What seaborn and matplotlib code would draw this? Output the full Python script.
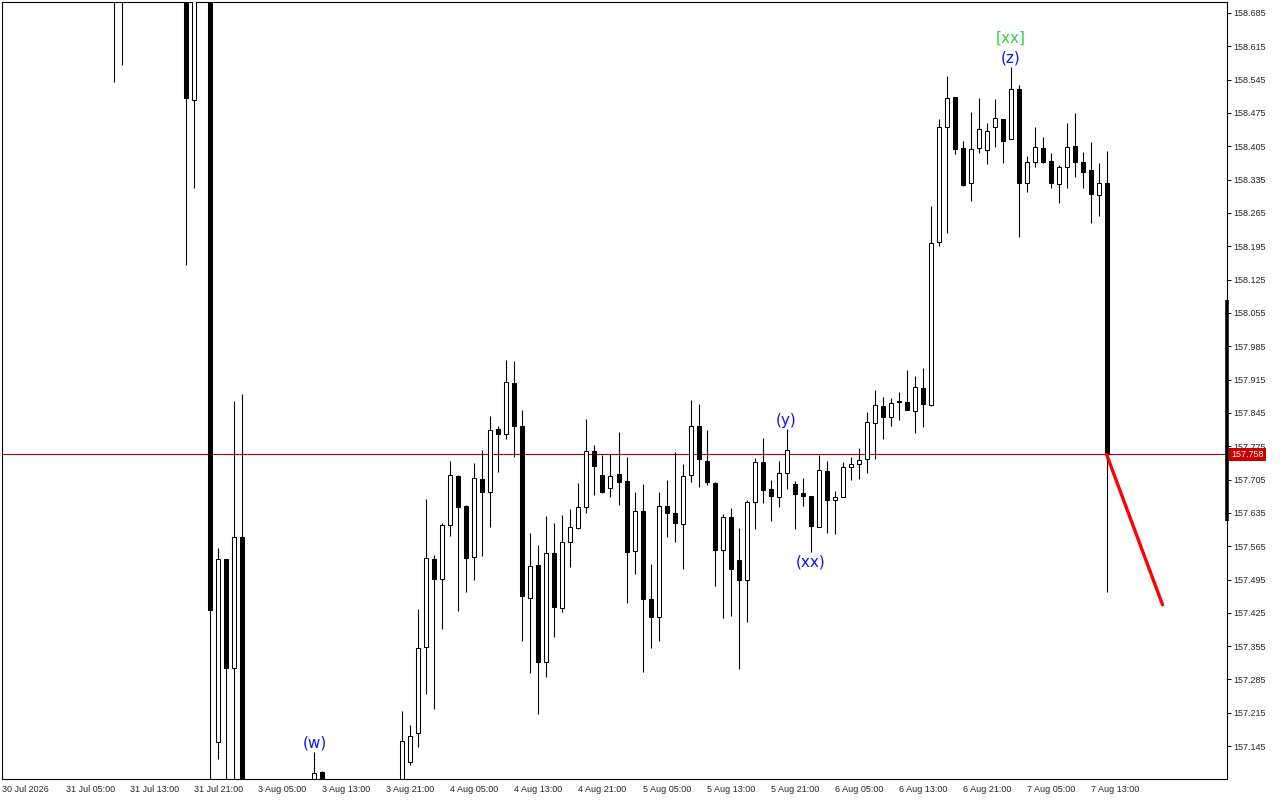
import matplotlib
matplotlib.use("Agg")
import matplotlib.pyplot as plt
import matplotlib.transforms as mtransforms
import numpy as np
import pandas as pd
import seaborn as sns

# ---------------- data (hourly candles, 30 Jul 21:00 -> 7 Aug 15:00) ----------------
opens = [158.95, 158.93, 158.96, 158.94, 158.91, 158.93, 158.97, 159.00, 158.97, 158.94,
         158.92, 158.89, 158.91, 158.86, 158.83, 158.79, 158.81, 158.84, 158.87, 158.85,
         158.82, 158.84, 158.80, 158.78, 158.502, 158.76, 158.79, 157.154, 157.538, 157.310,
         157.585, 157.03, 157.00, 157.02, 157.04, 157.01, 156.99, 157.02, 157.04, 157.05,
         157.091, 157.04, 157.02, 157.00, 156.98, 157.01, 157.03, 157.00, 157.02, 157.04,
         157.03, 157.112, 157.173, 157.354, 157.538, 157.496, 157.610, 157.713, 157.650, 157.543,
         157.706, 157.679, 157.811, 157.801, 157.908, 157.818, 157.457, 157.526, 157.322, 157.551,
         157.436, 157.574, 157.604, 157.648, 157.765, 157.715, 157.687, 157.717, 157.702, 157.555,
         157.639, 157.455, 157.417, 157.650, 157.635, 157.612, 157.715, 157.818, 157.744, 157.698,
         157.557, 157.627, 157.536, 157.494, 157.658, 157.742, 157.685, 157.669, 157.719, 157.696,
         157.677, 157.671, 157.606, 157.723, 157.662, 157.669, 157.732, 157.738, 157.748, 157.824,
         157.860, 157.837, 157.869, 157.868, 157.849, 157.898, 157.862, 158.204, 158.446, 158.509,
         158.402, 158.328, 158.402, 158.397, 158.446, 158.462, 158.420, 158.525, 158.328, 158.372,
         158.402, 158.374, 158.326, 158.362, 158.406, 158.372, 158.355, 158.303, 158.328]
highs = [158.99, 158.97, 159.01, 158.98, 158.95, 158.99, 159.03, 159.04, 159.00, 158.98,
         158.96, 158.93, 158.94, 158.90, 158.87, 158.84, 158.86, 158.90, 158.92, 158.89,
         158.86, 158.88, 158.84, 158.82, 158.80, 158.83, 158.82, 157.562, 157.538, 157.870,
         157.885, 157.06, 157.05, 157.06, 157.06, 157.05, 157.03, 157.06, 157.065, 157.133,
         157.093, 157.06, 157.05, 157.04, 157.02, 157.05, 157.06, 157.04, 157.06, 157.065,
         157.219, 157.190, 157.433, 157.664, 157.547, 157.614, 157.744, 157.715, 157.652, 157.740,
         157.767, 157.839, 157.818, 157.956, 157.954, 157.851, 157.593, 157.568, 157.629, 157.614,
         157.631, 157.643, 157.698, 157.832, 157.778, 157.757, 157.759, 157.805, 157.753, 157.679,
         157.696, 157.528, 157.679, 157.704, 157.763, 157.738, 157.872, 157.864, 157.809, 157.700,
         157.633, 157.646, 157.604, 157.662, 157.750, 157.792, 157.704, 157.744, 157.811, 157.702,
         157.708, 157.671, 157.757, 157.744, 157.681, 157.742, 157.753, 157.772, 157.847, 157.893,
         157.879, 157.877, 157.889, 157.935, 157.923, 157.940, 158.280, 158.462, 158.553, 158.509,
         158.416, 158.477, 158.506, 158.454, 158.504, 158.463, 158.572, 158.534, 158.385, 158.446,
         158.425, 158.391, 158.366, 158.454, 158.475, 158.393, 158.414, 158.370, 158.395]
lows = [158.91, 158.89, 158.92, 158.90, 158.86, 158.90, 158.94, 158.95, 158.92, 158.89,
        158.86, 158.84, 158.83, 158.79, 158.540, 158.576, 158.76, 158.80, 158.83, 158.80,
        158.77, 158.78, 158.74, 158.156, 158.318, 158.73, 157.02, 157.118, 157.04, 157.05,
        156.98, 156.97, 156.96, 156.98, 156.99, 156.97, 156.95, 156.99, 157.00, 157.03,
        157.02, 157.00, 156.98, 156.96, 156.94, 156.97, 156.99, 156.96, 156.98, 157.00,
        157.00, 157.105, 157.144, 157.255, 157.223, 157.391, 157.587, 157.429, 157.469, 157.494,
        157.545, 157.606, 157.721, 157.790, 157.753, 157.366, 157.299, 157.213, 157.291, 157.375,
        157.427, 157.522, 157.601, 157.635, 157.673, 157.677, 157.669, 157.652, 157.446, 157.507,
        157.301, 157.352, 157.366, 157.585, 157.574, 157.517, 157.700, 157.690, 157.694, 157.482,
        157.415, 157.419, 157.307, 157.406, 157.601, 157.656, 157.618, 157.648, 157.685, 157.601,
        157.650, 157.553, 157.606, 157.593, 157.591, 157.669, 157.704, 157.706, 157.719, 157.748,
        157.790, 157.818, 157.830, 157.851, 157.803, 157.816, 157.860, 158.196, 158.223, 158.389,
        158.322, 158.290, 158.391, 158.368, 158.404, 158.370, 158.420, 158.215, 158.309, 158.362,
        158.370, 158.318, 158.286, 158.318, 158.341, 158.318, 158.244, 158.259, 157.469]
closes = [158.93, 158.96, 158.94, 158.91, 158.93, 158.97, 159.00, 158.97, 158.94, 158.92,
          158.89, 158.91, 158.86, 158.83, 158.79, 158.81, 158.84, 158.87, 158.85, 158.82,
          158.84, 158.80, 158.78, 158.507, 158.76, 158.79, 157.431, 157.538, 157.310, 157.585,
          157.03, 157.00, 157.02, 157.04, 157.01, 156.99, 157.02, 157.04, 157.05, 157.089,
          157.04, 157.02, 157.00, 156.98, 157.01, 157.03, 157.00, 157.02, 157.04, 157.03,
          157.156, 157.167, 157.352, 157.541, 157.496, 157.610, 157.715, 157.648, 157.541, 157.709,
          157.679, 157.809, 157.801, 157.910, 157.818, 157.461, 157.524, 157.322, 157.551, 157.438,
          157.574, 157.606, 157.648, 157.765, 157.734, 157.679, 157.713, 157.700, 157.553, 157.639,
          157.455, 157.417, 157.650, 157.635, 157.614, 157.713, 157.818, 157.748, 157.700, 157.557,
          157.627, 157.517, 157.494, 157.658, 157.742, 157.683, 157.671, 157.719, 157.767, 157.675,
          157.671, 157.608, 157.725, 157.662, 157.669, 157.732, 157.738, 157.746, 157.826, 157.862,
          157.837, 157.866, 157.868, 157.851, 157.900, 157.864, 158.202, 158.446, 158.507, 158.400,
          158.324, 158.400, 158.441, 158.437, 158.465, 158.416, 158.525, 158.328, 158.372, 158.404,
          158.372, 158.328, 158.362, 158.404, 158.372, 158.351, 158.305, 158.328, 157.758]

time_labels = ["30 Jul 2026", "31 Jul 05:00", "31 Jul 13:00", "31 Jul 21:00", "3 Aug 05:00",
               "3 Aug 13:00", "3 Aug 21:00", "4 Aug 05:00", "4 Aug 13:00", "4 Aug 21:00",
               "5 Aug 05:00", "5 Aug 13:00", "5 Aug 21:00", "6 Aug 05:00", "6 Aug 13:00",
               "6 Aug 21:00", "7 Aug 05:00", "7 Aug 13:00"]
time_label_bars = [0, 8, 16, 24, 32, 40, 48, 56, 64, 72, 80, 88, 96, 104, 112, 120, 128, 136]

price_ticks = [158.685, 158.615, 158.545, 158.475, 158.405, 158.335, 158.265, 158.195,
               158.125, 158.055, 157.985, 157.915, 157.845, 157.775, 157.705, 157.635,
               157.565, 157.495, 157.425, 157.355, 157.285, 157.215, 157.145]

bid_price = 157.758

# wave labels: (text, bar index, placed above high / below low, colour)
wave_texts = ["(w)", "(y)", "(xx)", "(z)", "[xx]"]
wave_bars = [39, 98, 101, 126, 126]
wave_side = ["above", "above", "below", "above", "above2"]
wave_colors = ["#1010ff", "#1010ff", "#1010ff", "#1010ff", "#3ccc3c"]

# forecast line (bar index, price)
forecast_bars = [138, 145]
forecast_prices = [157.758, 157.442]

# range marker drawn on the price scale
scale_bar_range = [157.618, 158.082]

y_min, y_max = 157.076, 158.708
x_min, x_max = -0.06, 153.06

# ---------------- style ----------------
sns.set_style("white")
plt.rcParams["font.family"] = ["Liberation Sans", "DejaVu Sans"]

fig = plt.figure(figsize=(12.8, 8.0), dpi=100)
ax = fig.add_axes([2 / 1280, 21 / 800, 1225 / 1280, 777 / 800])
ax.set_facecolor("white")

df = pd.DataFrame({"open": opens, "high": highs, "low": lows, "close": closes})
df["bar"] = np.arange(len(df))
up = df["close"] >= df["open"]

# wicks
ax.vlines(df["bar"], df["low"], df["high"], color="black", linewidth=0.8, zorder=2)

# bodies
body_bottom = np.minimum(df["open"], df["close"])
body_height = np.maximum(np.abs(df["close"] - df["open"]), 0.0018)
face = np.where(up, "white", "black")
ax.bar(df["bar"], body_height, bottom=body_bottom, width=0.5, color=face,
       edgecolor="black", linewidth=0.75, zorder=3)

# bid line
ax.axhline(bid_price, color="#b00000", linewidth=0.8, zorder=1)

# forecast line via seaborn
fc = pd.DataFrame({"bar": forecast_bars, "price": forecast_prices})
sns.lineplot(data=fc, x="bar", y="price", ax=ax, color="#ff0000", linewidth=2.4, zorder=5)

# wave labels
for txt, b, side, col in zip(wave_texts, wave_bars, wave_side, wave_colors):
    if side == "above":
        ref, off = highs[b], 6.2
    elif side == "above2":
        ref, off = highs[b], 20.5
    else:
        ref, off = lows[b], -7.5
    ax.annotate(txt, xy=(b, ref), xytext=(0, off), textcoords="offset points",
                ha="center", va="center", fontsize=11, color=col,
                family=["DejaVu Sans"], zorder=6)

ax.set_xlim(x_min, x_max)
ax.set_ylim(y_min, y_max)
ax.set_xlabel("")
ax.set_ylabel("")

# axes / ticks
for s in ax.spines.values():
    s.set_visible(True)
    s.set_color("black")
    s.set_linewidth(0.8)

ax.set_xticks(time_label_bars)
ax.set_xticklabels(time_labels, ha="left", fontsize=6.5)
ax.yaxis.tick_right()
ax.set_yticks(price_ticks)
ax.set_yticklabels([f"{v:.3f}" for v in price_ticks], fontsize=6.5)
ax.tick_params(axis="x", direction="out", length=3, width=0.7, color="black", pad=1.5)
ax.tick_params(axis="y", direction="out", length=3, width=0.7, color="black", pad=1.5,
               right=True, left=False)
ax.grid(False)

# thick range marker on the price scale
trans = mtransforms.blended_transform_factory(ax.transAxes, ax.transData)
ax.plot([1.0, 1.0], scale_bar_range, transform=trans, color="black", linewidth=2.6,
        clip_on=False, zorder=7, solid_capstyle="butt")

# bid price label
ax.annotate(f"{bid_price:.3f}", xy=(1.0, bid_price), xycoords=trans,
            xytext=(3.2, 0), textcoords="offset points", ha="left", va="center",
            fontsize=6.5, color="white", annotation_clip=False, zorder=8,
            bbox=dict(boxstyle="square,pad=0.22", facecolor="#cc0000", edgecolor="none"))

fig.savefig("out.png", dpi=100, facecolor="white")
